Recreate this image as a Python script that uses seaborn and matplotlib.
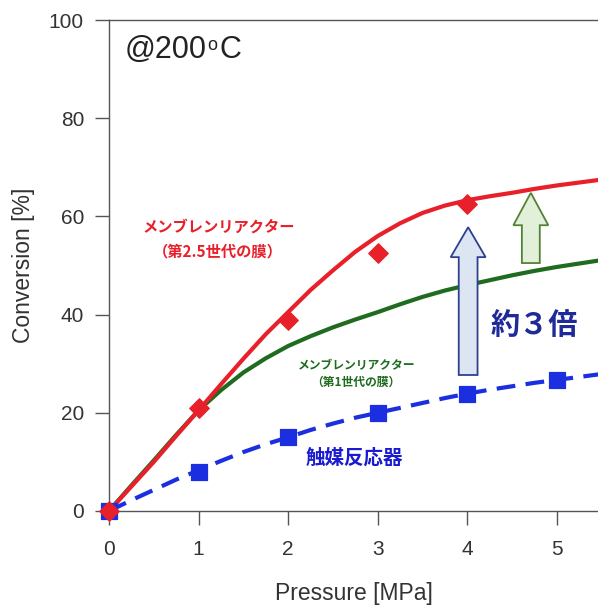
import numpy as np
import pandas as pd
import matplotlib
matplotlib.use("Agg")
import matplotlib.pyplot as plt
import seaborn as sns

# measured points
pressure_pts = [0, 1, 2, 3, 4]
conv_gen25_pts = [0, 21, 39, 52.5, 62.5]
pressure_cat = [0, 1, 2, 3, 4, 5]
conv_cat_pts = [0, 8, 15, 20, 23.8, 26.7]

# fitted curves
curve_p = [0, 0.25, 0.5, 0.75, 1, 1.25, 1.5, 1.75, 2, 2.25, 2.5, 2.75,
           3, 3.25, 3.5, 3.75, 4, 4.25, 4.5, 4.75, 5, 5.25, 5.5]
curve_gen25 = [0, 5, 10, 15.3, 20.5, 25.8, 31, 36, 40.5, 45, 49, 52.8,
               56, 58.6, 60.7, 62.2, 63.3, 64.1, 64.8, 65.6, 66.3, 66.9, 67.5]
curve_gen1 = [0, 5.2, 10.3, 15.5, 20.5, 24.6, 28.2, 31.1, 33.6, 35.6, 37.4, 39.0,
              40.5, 42.1, 43.6, 44.9, 46, 47, 48, 48.9, 49.7, 50.4, 51.1]
curve_cat = [0, 2.2, 4.3, 6.4, 8.3, 10.2, 12, 13.6, 15, 16.5, 17.8, 19,
             20, 21, 22, 23, 23.9, 24.7, 25.4, 26.1, 26.7, 27.3, 27.9]

RED = "#e8202a"
GREEN = "#1f6b1f"
BLUE = "#1c2fe0"

sns.set_theme(style="ticks")
plt.rcParams['font.family'] = ['Liberation Sans', 'Noto Sans CJK JP', 'DejaVu Sans']
JP = ['Noto Sans CJK JP', 'DejaVu Sans']

fig = plt.figure(figsize=(5.98, 6.06), dpi=100)
ax = fig.add_axes([109 / 598, 95 / 606, 489 / 598, 491 / 606])

df_curves = pd.DataFrame({"p": curve_p, "g25": curve_gen25, "g1": curve_gen1, "cat": curve_cat})
sns.lineplot(data=df_curves, x="p", y="cat", ax=ax, color=BLUE, lw=3,
             linestyle=(0, (4.5, 2.5)), zorder=2)
sns.lineplot(data=df_curves, x="p", y="g1", ax=ax, color=GREEN, lw=3, zorder=3)
sns.lineplot(data=df_curves, x="p", y="g25", ax=ax, color=RED, lw=3, zorder=4)

sns.scatterplot(x=pressure_cat, y=conv_cat_pts, ax=ax, marker="s", s=120, color=BLUE,
                edgecolor=BLUE, zorder=5, clip_on=False)
sns.scatterplot(x=pressure_pts, y=conv_gen25_pts, ax=ax, marker="D", s=100, color=RED,
                edgecolor=RED, zorder=6, clip_on=False)

# arrows
ax.arrow(4.01, 27.7, 0, 30.1, width=0.21, head_width=0.39, head_length=6.1,
         length_includes_head=True, facecolor="#dce6f2", edgecolor="#2f3f8f", lw=1.3, zorder=7)
ax.arrow(4.71, 50.5, 0, 14.3, width=0.2, head_width=0.39, head_length=6.6,
         length_includes_head=True, facecolor="#e2efd9", edgecolor="#548235", lw=1.3, zorder=7)

# @200oC with small raised "o"
t1 = ax.text(0.17, 92.3, "@200", fontsize=22, color="#222222", va="baseline", ha="left")
t2 = ax.annotate("o", xy=(1, 0.93), xycoords=t1, xytext=(1, 0), textcoords="offset points",
                 fontsize=13, color="#222222", va="top", ha="left")
ax.annotate("C", xy=(1, 0), xycoords=(t2, t1), xytext=(1, 0), textcoords="offset points",
            fontsize=22, color="#222222", va="bottom", ha="left")

ax.text(1.22, 55.4, "メンブレンリアクター\n（第2.5世代の膜）", family=JP, fontsize=11,
        fontweight="bold", color=RED, ha="center", va="center", linespacing=1.65)
ax.text(2.76, 27.9, "メンブレンリアクター\n（第1世代の膜）", family=JP, fontsize=8.5,
        fontweight="bold", color=GREEN, ha="center", va="center", linespacing=1.45)
ax.text(2.74, 10.8, "触媒反応器", family=JP, fontsize=14, fontweight="bold", color="#1a1ad0",
        ha="center", va="center")
ax.text(4.75, 37.9, "約３倍", family=JP, fontsize=21, fontweight="bold", color="#1f2a9a",
        ha="center", va="center")

ax.set_xlim(0, 5.46)
ax.set_ylim(0, 100)
ax.set_xticks([0, 1, 2, 3, 4, 5])
ax.set_yticks([0, 20, 40, 60, 80, 100])
ax.set_xlabel("Pressure [MPa]", fontsize=16.5, color="#333333")
ax.set_ylabel("Conversion [%]", fontsize=16.5, color="#333333")
ax.xaxis.set_label_coords(0.5, -0.145)
ax.yaxis.set_label_coords(-0.152, 0.5)
ax.tick_params(axis="both", length=10, width=1, color="#555555", labelsize=15,
               labelcolor="#333333")
ax.tick_params(axis="y", pad=8)
ax.tick_params(axis="x", pad=11)
for side in ["left", "bottom", "top"]:
    ax.spines[side].set_color("#555555")
    ax.spines[side].set_linewidth(1)
ax.spines["right"].set_visible(False)

fig.savefig("out.png", dpi=100)
